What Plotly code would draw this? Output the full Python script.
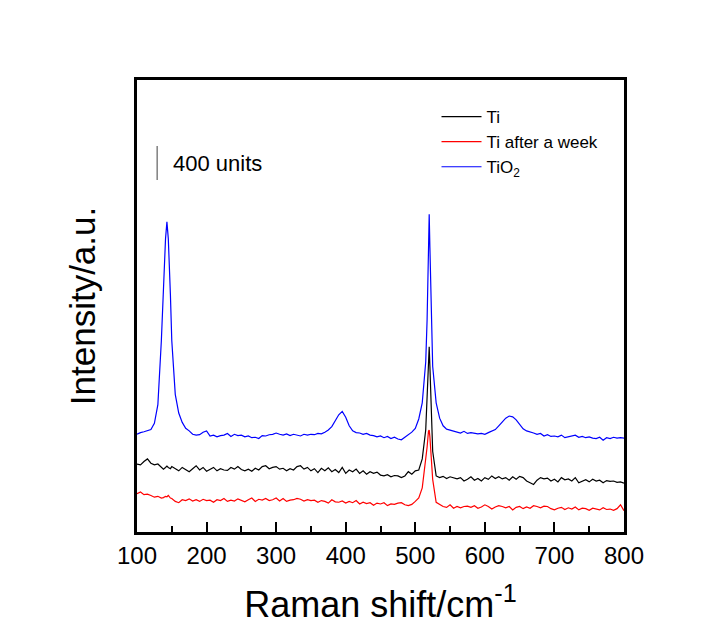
import plotly.graph_objects as go

# Raman shift (cm^-1)
raman_shift = (
    [100, 105, 110, 115, 120, 125, 130, 135, 138, 141, 143, 145, 148]
    + list(range(150, 515, 5))
    + [515, 517, 519, 520, 521, 523, 525]
    + list(range(530, 805, 5))
)

ti = [
    800, 790, 830, 860, 810, 790, 800, 760, 740, 760, 775, 760, 745,
    # 150..510
    770, 740, 720, 760, 735, 710, 745, 780, 730, 760, 715, 740, 760, 720, 745, 730,
    725, 760, 740, 770, 735, 720, 740, 715, 750, 730, 770, 780, 745, 760, 770, 740,
    750, 720, 745, 730, 770, 780, 740, 760, 720, 745, 700, 750, 720, 755, 710, 735,
    700, 760, 690, 730, 710, 740, 690, 720, 680, 710, 690, 705, 670, 660, 675, 650,
    665, 660, 640, 660, 710, 680, 720, 730, 860,
    # 515..525
    1200, 1600, 2050, 2180, 1950, 1450, 950,
    # 530..800
    660, 640, 655, 630, 650, 640, 625, 640, 600, 620, 650, 610, 630, 600, 640, 620,
    660, 630, 650, 625, 640, 610, 650, 620, 655, 640, 600, 580, 560, 610, 640, 625,
    635, 600, 620, 590, 640, 615, 625, 600, 640, 580, 600, 615, 590, 620, 600, 610,
    580, 605, 595, 600, 585, 590, 575,
]

ti_week = [
    450, 470, 440, 445, 430, 410, 420, 400, 405, 420, 415, 430, 400,
    # 150..510
    395, 360, 345, 380, 370, 390, 365, 380, 360, 385, 370, 375, 350, 380, 370, 395,
    360, 375, 365, 390, 370, 355, 380, 400, 360, 385, 375, 395, 370, 380, 400, 365,
    395, 360, 375, 380, 395, 385, 365, 380, 370, 375, 350, 370, 360, 340, 380, 355,
    350, 365, 340, 360, 345, 370, 330, 350, 335, 345, 315, 340, 330, 345, 310, 330,
    325, 340, 345, 320, 310, 325, 360, 400, 520,
    # 515..525
    820, 1000, 1190, 1200, 1120, 900, 620,
    # 530..800
    350, 320, 300, 290, 320, 280, 300, 285, 300, 305, 290, 310, 280, 295, 320, 300,
    270, 295, 310, 300, 285, 300, 260, 290, 300, 275, 295, 280, 310, 300, 285, 305,
    300, 275, 260, 280, 290, 265, 285, 270, 295, 260, 280, 275, 255, 280, 270, 260,
    285, 265, 270, 255, 275, 320, 250,
]

tio2 = [
    1150, 1170, 1180, 1190, 1205, 1280, 1500, 2250, 2950, 3450, 3650, 3450, 2800,
    # 150..510
    2250, 1620, 1400, 1290, 1220, 1190, 1150, 1140, 1145, 1175, 1190, 1130, 1140, 1120, 1135, 1140,
    1160, 1125, 1150, 1135, 1140, 1120, 1130, 1110, 1115, 1100, 1135, 1130, 1145, 1150, 1165, 1150,
    1140, 1155, 1135, 1150, 1140, 1130, 1150, 1140, 1150, 1145, 1160, 1155, 1175, 1200, 1240, 1310,
    1380, 1420, 1350, 1250, 1190, 1170, 1165, 1150, 1160, 1140, 1135, 1120, 1130, 1110, 1125, 1100,
    1115, 1095, 1085, 1115, 1140, 1175, 1220, 1330, 1520,
    # 515..525
    2000, 2500, 3400, 3740, 3350, 2600, 1950,
    # 530..800
    1520, 1340, 1250, 1210, 1200, 1190, 1175, 1165, 1185, 1160, 1170, 1165, 1155, 1160, 1150, 1170,
    1185, 1205, 1250, 1300, 1340, 1365, 1355, 1320, 1270, 1215, 1190, 1180, 1165, 1150, 1160, 1130,
    1145, 1125, 1130, 1120, 1140, 1110, 1120, 1125, 1140, 1115, 1125, 1110, 1120, 1105, 1100, 1115,
    1080, 1110, 1100, 1115, 1105, 1110, 1105,
]

series_names = ["Ti", "Ti after a week", "TiO<sub>2</sub>"]
series_values = [ti, ti_week, tio2]
series_colors = ["#000000", "#FF0000", "#0000FF"]

x_tick_values = [100, 200, 300, 400, 500, 600, 700, 800]
scale_bar_x = 129
scale_bar_bottom = 4143
scale_bar_units = 400

fig = go.Figure()
for name, vals, col in zip(series_names, series_values, series_colors):
    fig.add_trace(go.Scatter(x=raman_shift, y=vals, mode="lines", name=name,
                             line=dict(color=col, width=1.2)))

fig.add_shape(type="line", xref="x", yref="y",
              x0=scale_bar_x, x1=scale_bar_x,
              y0=scale_bar_bottom, y1=scale_bar_bottom + scale_bar_units,
              line=dict(color="#7f7f7f", width=1.5))
fig.add_annotation(x=149, y=scale_bar_bottom + scale_bar_units / 2, xref="x", yref="y",
                   text=f"{scale_bar_units} units", showarrow=False, xanchor="left",
                   yanchor="middle", font=dict(size=22, color="black"))

font_fam = "Arial, Liberation Sans, sans-serif"
fig.update_layout(
    width=709, height=626,
    margin=dict(l=129, r=93, t=72, b=102),
    paper_bgcolor="white", plot_bgcolor="white",
    font=dict(family=font_fam, color="black"),
    legend=dict(x=0.615, y=0.958, xanchor="left", yanchor="top",
                font=dict(size=17), bgcolor="rgba(0,0,0,0)", borderwidth=0,
                itemwidth=40, tracegroupgap=0),
    xaxis=dict(range=[100, 800], tickvals=x_tick_values, ticks="inside", ticklen=10,
               tickwidth=2, tickcolor="black", showline=True, linewidth=2.5,
               linecolor="black", mirror=True, showgrid=False, zeroline=False,
               tickfont=dict(size=24),
               minor=dict(dtick=50, tick0=100, ticks="inside", ticklen=6,
                          tickwidth=2, tickcolor="black", showgrid=False),
               title=dict(text="Raman shift/cm<sup>-1</sup>", font=dict(size=36), standoff=25)),
    yaxis=dict(range=[0, 5320], showticklabels=False, ticks="", showline=True,
               linewidth=2.5, linecolor="black", mirror=True, showgrid=False,
               zeroline=False,
               title=dict(text="Intensity/a.u.", font=dict(size=35), standoff=29)),
    showlegend=True,
)

fig.write_html("out.html")
